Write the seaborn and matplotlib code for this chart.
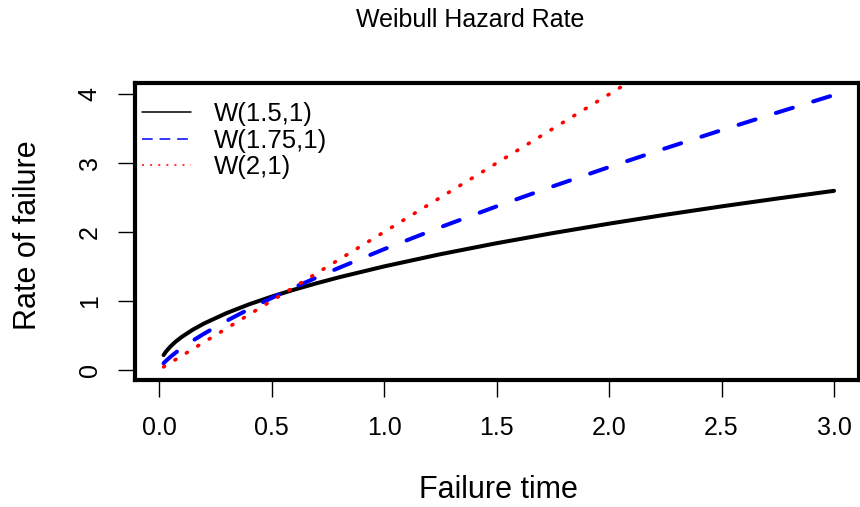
import pandas as pd
import matplotlib.pyplot as plt
import seaborn as sns
from matplotlib.lines import Line2D

# values
failure_time = [0.02, 0.03, 0.05, 0.075, 0.1, 0.15, 0.2, 0.3, 0.4, 0.5, 0.6,
                0.7, 0.8, 1.0, 1.25, 1.5, 1.75, 2.0, 2.25, 2.5, 2.75, 3.0]
rate_w15 = [0.212, 0.260, 0.335, 0.411, 0.474, 0.581, 0.671, 0.822, 0.949,
            1.061, 1.162, 1.255, 1.342, 1.500, 1.677, 1.837, 1.984, 2.121,
            2.250, 2.372, 2.487, 2.598]
rate_w175 = [0.093, 0.126, 0.185, 0.251, 0.311, 0.422, 0.523, 0.709, 0.880,
             1.041, 1.193, 1.339, 1.480, 1.750, 2.069, 2.372, 2.663, 2.943,
             3.215, 3.479, 3.737, 3.990]
rate_w2 = [0.04, 0.06, 0.10, 0.15, 0.20, 0.30, 0.40, 0.60, 0.80, 1.00, 1.20,
           1.40, 1.60, 2.00, 2.50, 3.00, 3.50, 4.00, 4.50, 5.00, 5.50, 6.00]
labels = ["W(1.5,1)", "W(1.75,1)", "W(2,1)"]

df = pd.DataFrame({"t": failure_time, "w15": rate_w15,
                   "w175": rate_w175, "w2": rate_w2})

sns.set_style("white")
plt.rcParams['font.family'] = ['Liberation Sans', 'DejaVu Sans']
plt.rcParams['text.color'] = 'black'
plt.rcParams['xtick.color'] = 'black'
plt.rcParams['ytick.color'] = 'black'

fig = plt.figure(figsize=(8.6, 5.07), dpi=100)
ax = fig.add_axes([135 / 860, 1 - 380 / 507, 724 / 860, 296.7 / 507])

sns.lineplot(data=df, x="t", y="w15", ax=ax, color="black", lw=2.9,
             solid_capstyle="round")
sns.lineplot(data=df, x="t", y="w175", ax=ax, color="blue", lw=2.9)
ax.lines[-1].set_dashes((4.4, 5.3))
ax.lines[-1].set_dash_capstyle("round")
sns.lineplot(data=df, x="t", y="w2", ax=ax, color="red", lw=2.6)
ax.lines[-1].set_dashes((0.3, 3.4))
ax.lines[-1].set_dash_capstyle("round")

ax.set_xlim(-0.107, 3.111)
ax.set_ylim(-0.15, 4.16)
ax.set_xticks([0.0, 0.5, 1.0, 1.5, 2.0, 2.5, 3.0])
ax.set_yticks([0, 1, 2, 3, 4])
ax.set_xlabel("")
ax.set_ylabel("")

for s in ax.spines.values():
    s.set_linewidth(3)
    s.set_color("black")
ax.tick_params(direction="out", length=12, width=1, color="black",
               labelcolor="black", labelsize=18, pad=14, bottom=True, left=True)
ax.tick_params(axis="y", pad=12)
for lab in ax.get_yticklabels():
    lab.set_rotation(90)
    lab.set_va("center")

handles = [
    Line2D([], [], color="black", lw=1.1),
    Line2D([], [], color="blue", lw=1.1, dashes=(7, 4.5)),
    Line2D([], [], color="red", lw=1.1, dashes=(1.3, 4)),
]
ax.legend(handles, labels, loc="upper left", bbox_to_anchor=(7 / 724, 1 - 19 / 297),
          frameon=False, fontsize=18.5, borderpad=0, borderaxespad=0,
          handlelength=1.9, handletextpad=0.9, labelspacing=0.1)

fig.text(470 / 860, 1 - 20 / 507, "Weibull Hazard Rate", ha="center",
         va="center", fontsize=18)
fig.text(498 / 860, 1 - 490 / 507, "Failure time", ha="center",
         va="center", fontsize=22)
fig.text(28 / 860, 1 - 235 / 507, "Rate of failure", ha="center",
         va="center", fontsize=22, rotation=90)

fig.savefig("out.png", dpi=100)
